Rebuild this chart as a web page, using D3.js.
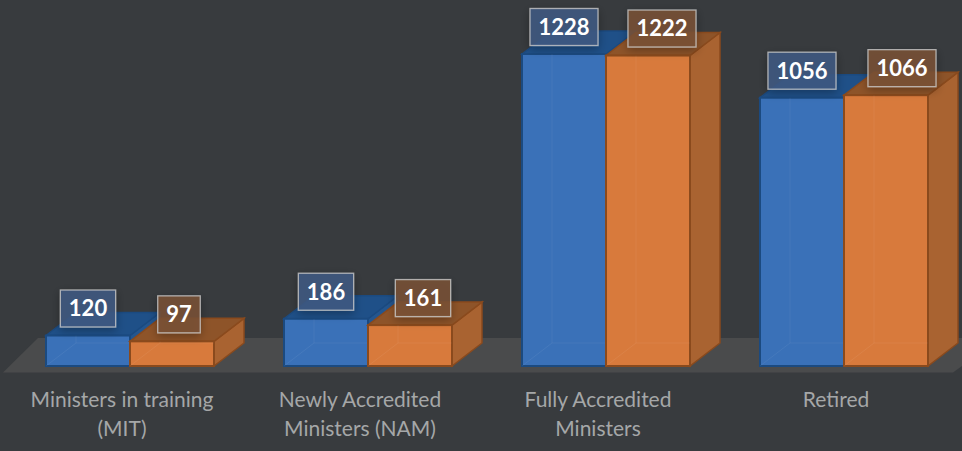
<!DOCTYPE html>
<html>
<head>
    <meta charset="utf-8">
    <title>Ministers</title>
    <script src="https://cdn.jsdelivr.net/npm/d3@7"></script>
    <style>
        html, body { margin: 0; padding: 0; background: #383b3e; }
        svg { display: block; }
        text { font-family: Lato, "Open Sans", sans-serif; }
    </style>
</head>

<body>

<script type="text/javascript">
    // values
    var categories = ["MIT", "NAM", "FAM", "Retired"];
    var tickLabels = {
        MIT: ["Ministers in training", "(MIT)"],
        NAM: ["Newly Accredited", "Ministers (NAM)"],
        FAM: ["Fully Accredited", "Ministers"],
        Retired: ["Retired"]
    };
    var blueValues = [120, 186, 1228, 1056];
    var orangeValues = [97, 161, 1222, 1066];

    var width = 962, height = 451,
        baseline = 366,
        depthX = 30, depthY = -23,   // oblique offset of the 3d boxes
        barsWidth = 168;

    // the chart has no value axis, only the pixel scale of the bars
    var y = d3.scaleLinear().domain([0, 1228]).range([baseline, 54]);
    var x0 = d3.scaleBand().domain(categories).range([11, 963]);
    var x1 = d3.scaleBand().domain([0, 1]).range([0, barsWidth]);
    var groupPad = (x0.bandwidth() - barsWidth) / 2;

    var series = [
        {values: blueValues, front: "#3a71b8", top: "#1f5088", side: "#24568f",
            edge: "#1b4a80", box: "#3f5a82", nudge: [0, 0, 0, 0]},
        {values: orangeValues, front: "#d87a3c", top: "#8e5429", side: "#a96331",
            edge: "#8a4a1d", box: "#7a5236", nudge: [7, 13, 14, 16]}
    ];

    var svg = d3.select("body").append("svg")
            .attr("width", width)
            .attr("height", height);

    var defs = svg.append("defs");
    defs.append("filter").attr("id", "soft")
            .attr("x", "-30%").attr("y", "-30%")
            .attr("width", "160%").attr("height", "170%")
        .append("feDropShadow")
            .attr("dx", 0).attr("dy", 3)
            .attr("stdDeviation", 5)
            .attr("flood-color", "#000")
            .attr("flood-opacity", 0.35);

    // floor
    svg.append("path")
            .attr("d", "M3,372.5 L38,338 L962,338 L962,366 L953,372.5 Z")
            .attr("fill", "#4a4b4c");

    function points(list) {
        return list.map(function (p) { return p.join(","); }).join(" ");
    }

    var barsG = svg.append("g").attr("class", "bars");

    series.forEach(function (s, i) {
        categories.forEach(function (c, j) {
            var left = x0(c) + groupPad + x1(i),
                right = left + x1.bandwidth(),
                top = y(s.values[j]),
                g = barsG.append("g");

            g.append("polygon") // side
                    .attr("points", points([[right, top], [right + depthX, top + depthY],
                        [right + depthX, baseline + depthY], [right, baseline]]))
                    .attr("fill", s.side).attr("stroke", s.edge).attr("stroke-width", 1.5);
            g.append("polygon") // top
                    .attr("points", points([[left, top], [left + depthX, top + depthY],
                        [right + depthX, top + depthY], [right, top]]))
                    .attr("fill", s.top).attr("stroke", s.edge).attr("stroke-width", 1.5);
            g.append("rect") // front
                    .attr("x", left).attr("y", top)
                    .attr("width", x1.bandwidth()).attr("height", baseline - top)
                    .attr("fill", s.front).attr("stroke", s.edge).attr("stroke-width", 2);

            // faint back edges showing through the front face
            var backY = Math.max(top, baseline + depthY);
            g.append("path")
                    .attr("d", "M" + left + "," + baseline + "L" + (left + depthX) + "," + (baseline + depthY)
                        + "M" + (left + depthX) + "," + backY + "L" + right + "," + backY
                        + "M" + (left + depthX) + "," + top + "L" + (left + depthX) + "," + (baseline + depthY))
                    .attr("fill", "none")
                    .attr("stroke", "#fff").attr("stroke-opacity", 0.06);
        });
    });

    // category labels through the axis generator
    var xAxis = d3.axisBottom(x0).tickSize(0).tickFormat("");
    var axisG = svg.append("g")
            .attr("class", "x axis")
            .attr("transform", "translate(-8," + 372 + ")")
            .call(xAxis);
    axisG.select(".domain").remove();
    axisG.selectAll("g.tick text").remove();
    axisG.selectAll("g.tick").append("text")
            .attr("text-anchor", "middle")
            .attr("fill", "#a5a7a8")
            .attr("font-size", 21)
            .selectAll("tspan")
            .data(function (d) { return tickLabels[d]; })
            .enter().append("tspan")
            .attr("x", 0)
            .attr("y", function (d, i) { return 35 + i * 29; })
            .text(function (d) { return d; });

    // value labels
    var labelsG = svg.append("g").attr("class", "labels");
    series.forEach(function (s, i) {
        categories.forEach(function (c, j) {
            var v = s.values[j],
                cx = x0(c) + groupPad + x1(i) + x1.bandwidth() / 2 + s.nudge[j],
                cy = y(v) - 27,
                g = labelsG.append("g").attr("transform", "translate(" + cx + "," + cy + ")"),
                t = g.append("text")
                    .attr("text-anchor", "middle")
                    .attr("dy", "0.36em")
                    .attr("fill", "#fff")
                    .attr("font-size", 22)
                    .attr("font-weight", 700)
                    .text(v),
                w = t.node().getComputedTextLength() + 17;
            g.insert("rect", "text")
                    .attr("x", -w / 2).attr("y", -18.5)
                    .attr("width", w).attr("height", 37)
                    .attr("fill", s.box).attr("fill-opacity", 0.85)
                    .attr("stroke", "#c9c9c9").attr("stroke-opacity", 0.8)
                    .attr("stroke-width", 1.3)
                    .attr("filter", "url(#soft)");
        });
    });
</script>

</body>

</html>
